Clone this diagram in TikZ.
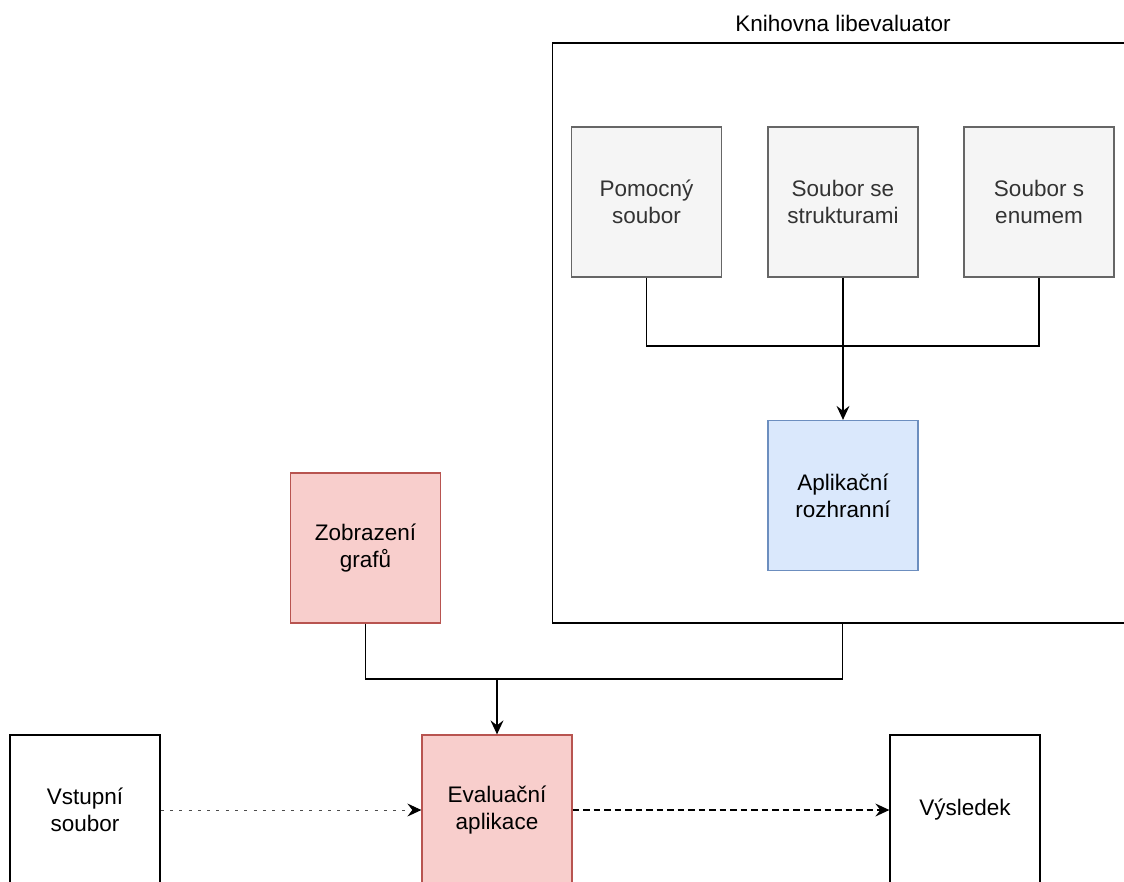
\documentclass[tikz,border=0pt]{standalone}
\usepackage{fontspec}
\setmainfont{Liberation Sans}
\usetikzlibrary{arrows.meta}
\definecolor{redfill}{HTML}{F8CECC}
\definecolor{redline}{HTML}{B85450}
\definecolor{bluefill}{HTML}{DAE8FC}
\definecolor{blueline}{HTML}{6C8EBF}
\definecolor{grayfill}{HTML}{F5F5F5}
\definecolor{grayline}{HTML}{666666}
\definecolor{graytext}{HTML}{333333}
\tikzset{
  label font/.style={font=\fontsize{22.5}{27}\selectfont},
  box/.style={draw, line width=1.3pt, minimum width=150pt, minimum height=150pt,
    inner sep=0pt, align=center, label font},
  plain/.style={box, draw=black, fill=white},
  redbox/.style={box, draw=redline, fill=redfill},
  bluebox/.style={box, draw=blueline, fill=bluefill},
  graybox/.style={box, draw=grayline, fill=grayfill, text=graytext},
  wire/.style={line width=1.3pt, draw=black},
  tip/.style={wire, -{Stealth[length=14pt, width=13pt, inset=5pt]}},
}
\begin{document}
\begin{tikzpicture}[x=1pt, y=-1pt]
\useasboundingbox (0,0) rectangle (1124,881);
\fill[white] (0,0) rectangle (1124,881);

% library container and its title
\node[draw, line width=1.3pt, minimum width=580pt, minimum height=580pt, inner sep=0pt] (lib) at (842.5,333) {};
\node[label font, anchor=south] (libtitle) at (843,35) {Knihovna libevaluator};

% files inside the library
\node[graybox] (pom) at (646.5,202) {Pomocný\\soubor};
\node[graybox] (str) at (843,202) {Soubor se\\strukturami};
\node[graybox] (enu) at (1039,202) {Soubor s\\enumem};
\node[bluebox] (api) at (843,495.5) {Aplikační\\rozhranní};

% application parts
\node[redbox] (zob) at (365.5,548) {Zobrazení\\grafů};
\node[redbox] (eva) at (497,810) {Evaluační\\aplikace};
\node[plain] (vst) at (85,810) {Vstupní\\soubor};
\node[plain] (vys) at (965,810) {Výsledek};

% junctions of the merging wires
\coordinate (j1) at (843,346);
\coordinate (j2) at (497,679);

% wiring inside the library
\draw[wire] (pom.south) |- (j1) -| (enu.south);
\draw[tip] (str.south) -- (api.north);

% wiring towards the evaluation application
\draw[wire] (zob.south) |- (j2) -| (lib.south);
\draw[tip] (j2) -- (eva.north);

% data flow
\draw[line width=1pt, draw=black!70, dash pattern=on 3pt off 6.3pt,
  -{Stealth[length=14pt, width=13pt, inset=5pt, color=black]}] (vst.east) -- (eva.west);
\draw[tip, dash pattern=on 6.5pt off 4pt] (eva.east) -- (vys.west);
\end{tikzpicture}
\end{document}
